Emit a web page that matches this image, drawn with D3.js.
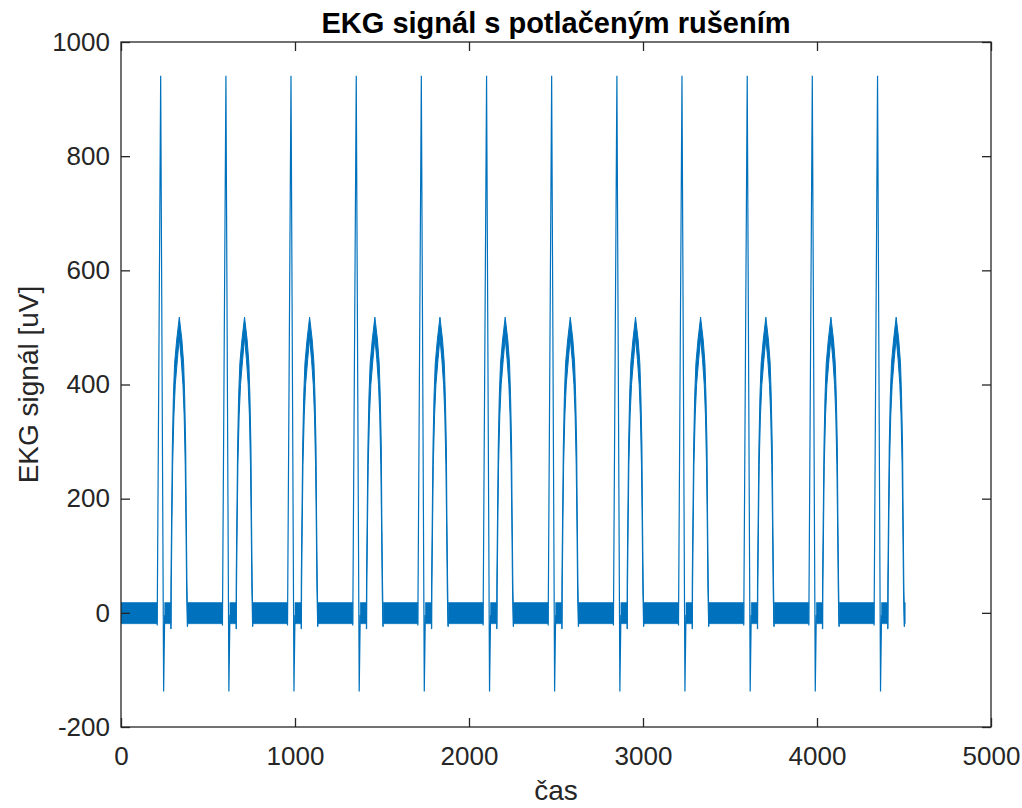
<!DOCTYPE html>
<html>
<head>
<meta charset="utf-8">
<script src="https://cdn.jsdelivr.net/npm/d3@7"></script>
<style>
body { margin:0; background:#fff; }
svg text { font-family:"Liberation Sans", Arial, Helvetica, sans-serif; fill:#262626; }
</style>
</head>
<body>
<div id="chart"></div>
<script>
var x_ticks      = [0, 1000, 2000, 3000, 4000, 5000];
var y_ticks      = [-200, 0, 200, 400, 600, 800, 1000];
var signal_start = 0;
var signal_end   = 4507;

// R peak times of the 12 beats.
var r_peak_times = [228, 603, 977, 1352, 1726, 2101, 2475, 2850, 3224, 3599, 3973, 4348];

// QRS complex, offsets from the R peak.
var qrs_offsets = [-20, 0, 17, 23];
var qrs_values  = [-22, 941, -138, -4];

// Short noisy stretch between S and T.
var st_band = [23, 58];

// T wave, upper and lower edge of the noisy arch.
var t_offsets_upper = [58, 59, 63, 67, 73, 80, 92, 107, 122, 132, 138, 144, 147, 151, 155];
var t_values_upper  = [-28, 58, 175, 291, 379, 437, 478, 518, 478, 437, 379, 291, 175, 58, -24];
var t_offsets_lower = [60, 61, 65, 69, 76, 84, 96, 107, 118, 128, 135, 141, 145, 149, 153];
var t_values_lower  = [-28, 40, 160, 260, 345, 400, 444, 482, 444, 400, 345, 260, 160, 40, -24];

// Remaining mains noise around zero.
var noise_high = 18;
var noise_low  = -19;

var line_color = "#0072BD";
var axis_color = "#262626";

var dimension = { width:1022, height:808 };
var margin    = { top:42, right:31, bottom:81, left:121 };
var plot_w    = dimension.width - margin.left - margin.right;
var plot_h    = dimension.height - margin.top - margin.bottom;

var x = d3.scaleLinear().domain([0, 5000]).range([0, plot_w]);
var y = d3.scaleLinear().domain([-200, 1000]).range([plot_h, 0]);

var svg = d3.select("#chart").append("svg")
  .attr("width", dimension.width)
  .attr("height", dimension.height);

svg.append("defs").append("clipPath").attr("id", "plot_clip")
  .append("rect").attr("width", plot_w).attr("height", plot_h);

var g = svg.append("g").attr("transform", "translate(" + margin.left + "," + margin.top + ")");
var plot = g.append("g").attr("clip-path", "url(#plot_clip)");

// Noise band stretches.
var t_end = t_offsets_upper[t_offsets_upper.length - 1];
var band_segments = [[signal_start, r_peak_times[0] + qrs_offsets[0]]];
for (var i = 0; i < r_peak_times.length; i ++) {
  var r = r_peak_times[i];
  band_segments.push([r + st_band[0], r + st_band[1]]);
  var next = (i + 1 < r_peak_times.length) ? r_peak_times[i + 1] + qrs_offsets[0] : signal_end;
  band_segments.push([r + t_end, next]);
}

var band_area = d3.area()
  .x(function (d) { return x(d); })
  .y0(y(noise_low))
  .y1(y(noise_high));

band_segments.forEach(function (s) {
  plot.append("path")
    .attr("d", band_area(s))
    .style("fill", line_color)
    .style("stroke", line_color)
    .style("stroke-width", 0.6);
});

var line_gen = d3.line()
  .x(function (d) { return x(d[0]); })
  .y(function (d) { return y(d[1]); });

r_peak_times.forEach(function (r) {
  var qrs = qrs_offsets.map(function (o, k) { return [r + o, qrs_values[k]]; });
  plot.append("path")
    .attr("d", line_gen(qrs))
    .style("fill", "none")
    .style("stroke", line_color)
    .style("stroke-width", 1.2)
    .style("stroke-linejoin", "miter");

  var arch = t_offsets_upper.map(function (o, k) { return [r + o, t_values_upper[k]]; });
  for (var k = t_offsets_lower.length - 1; k >= 0; k --) {
    arch.push([r + t_offsets_lower[k], t_values_lower[k]]);
  }
  plot.append("path")
    .attr("d", line_gen(arch) + "Z")
    .style("fill", line_color)
    .style("stroke", line_color)
    .style("stroke-width", 1);
});

// Axes, MATLAB style: ticks inside, box on.
function style_axis (sel) {
  sel.select(".domain").remove();
  sel.selectAll(".tick line").style("stroke", axis_color).style("stroke-width", 1.3);
  sel.selectAll(".tick text").style("font-size", "26px").style("fill", axis_color);
}

function plain_format (d) { return String(d); }

g.append("g")
  .attr("transform", "translate(0," + plot_h + ")")
  .call(d3.axisBottom(x).tickValues(x_ticks).tickFormat(plain_format).tickSizeInner(-9).tickSizeOuter(0).tickPadding(20))
  .call(style_axis);

g.append("g")
  .call(d3.axisTop(x).tickValues(x_ticks).tickFormat("").tickSizeInner(-9).tickSizeOuter(0))
  .call(style_axis);

g.append("g")
  .call(d3.axisLeft(y).tickValues(y_ticks).tickFormat(plain_format).tickSizeInner(-9).tickSizeOuter(0).tickPadding(11))
  .call(style_axis);

g.append("g")
  .attr("transform", "translate(" + plot_w + ",0)")
  .call(d3.axisRight(y).tickValues(y_ticks).tickFormat("").tickSizeInner(-9).tickSizeOuter(0))
  .call(style_axis);

g.append("rect")
  .attr("width", plot_w)
  .attr("height", plot_h)
  .style("fill", "none")
  .style("stroke", axis_color)
  .style("stroke-width", 1.3);

// Labels.
svg.append("text")
  .attr("x", margin.left + plot_w/2)
  .attr("y", 33)
  .attr("text-anchor", "middle")
  .style("font-size", "29px")
  .style("font-weight", "bold")
  .style("fill", "#000")
  .text("EKG signál s potlačeným rušením");

svg.append("text")
  .attr("x", margin.left + plot_w/2)
  .attr("y", 800)
  .attr("text-anchor", "middle")
  .style("font-size", "28px")
  .text("čas");

svg.append("text")
  .attr("transform", "translate(38," + (margin.top + plot_h/2) + ") rotate(-90)")
  .attr("text-anchor", "middle")
  .style("font-size", "28px")
  .text("EKG signál [uV]");
</script>
</body>
</html>
